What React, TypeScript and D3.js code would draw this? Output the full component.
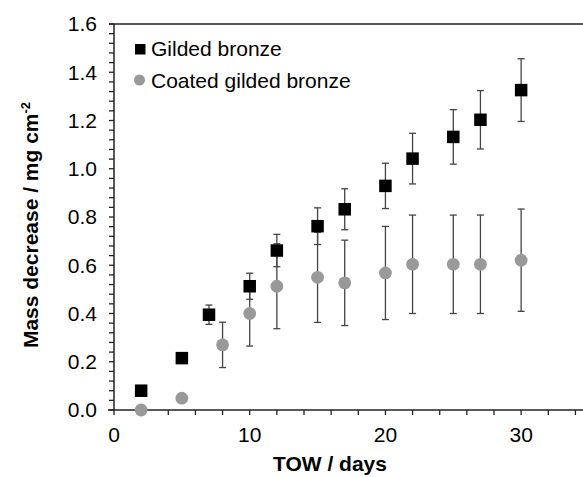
import React from "react";
import * as d3 from "d3";

const gildedDays = [2, 5, 7, 10, 12, 15, 17, 20, 22, 25, 27, 30];
const gildedValues = [0.08, 0.215, 0.395, 0.513, 0.661, 0.762, 0.832, 0.929, 1.042, 1.132, 1.203, 1.326];
const gildedErrors = [0, 0, 0.04, 0.054, 0.067, 0.076, 0.085, 0.094, 0.105, 0.113, 0.121, 0.13];

const coatedDays = [2, 5, 8, 10, 12, 15, 17, 20, 22, 25, 27, 30];
const coatedValues = [0.0, 0.049, 0.27, 0.4, 0.513, 0.55, 0.527, 0.568, 0.604, 0.604, 0.604, 0.621];
const coatedErrors = [0, 0, 0.094, 0.135, 0.176, 0.187, 0.177, 0.193, 0.204, 0.204, 0.204, 0.212];

const xMajorTicks = [0, 10, 20, 30];
const yMajorTicks = [0, 0.2, 0.4, 0.6, 0.8, 1.0, 1.2, 1.4, 1.6];
const seriesNames = ["Gilded bronze", "Coated gilded bronze"];
const xTitle = "TOW / days";

const W = 583;
const H = 477;
const left = 114;
const right = 589;
const top = 24;
const bottom = 410;
const FONT = "'Liberation Sans', Arial, sans-serif";

export default function App() {
  const x = d3.scaleLinear().domain([0, 35]).range([left, right]);
  const y = d3.scaleLinear().domain([0, 1.6]).range([bottom, top]);
  const xMinor = d3.range(0, 35.01, 2);
  const yMinor = d3.range(0, 1.6001, 0.04);
  const errColor = "#444";
  const cap = 3.5;
  const sq = 12.5;

  const errBars = (days: number[], vals: number[], errs: number[], key: string) =>
    days.map((d, i) =>
      errs[i] > 0 ? (
        <g key={key + i} stroke={errColor} strokeWidth={1.3}>
          <line x1={x(d)} x2={x(d)} y1={y(vals[i] - errs[i])} y2={y(vals[i] + errs[i])} />
          <line x1={x(d) - cap} x2={x(d) + cap} y1={y(vals[i] - errs[i])} y2={y(vals[i] - errs[i])} />
          <line x1={x(d) - cap} x2={x(d) + cap} y1={y(vals[i] + errs[i])} y2={y(vals[i] + errs[i])} />
        </g>
      ) : null
    );

  return (
    <svg
      width={W}
      height={H}
      style={{ position: "absolute", left: 0, top: 0, background: "#fff" }}
      fontFamily={FONT}
    >
      <rect x={0} y={0} width={W} height={H} fill="#fff" />
      {/* frame */}
      <line x1={left - 5} x2={right} y1={top} y2={top} stroke="#222" strokeWidth={1.5} />
      <line x1={right} x2={right} y1={top} y2={bottom} stroke="#222" strokeWidth={1.5} />
      {/* y axis */}
      <line x1={left} x2={left} y1={top} y2={bottom} stroke="#222" strokeWidth={1.5} />
      {yMinor.map((v, i) => (
        <line key={"ym" + i} x1={left - 5} x2={left} y1={y(v)} y2={y(v)} stroke="#222" strokeWidth={1.3} />
      ))}
      {yMajorTicks.map((v) => (
        <text key={"yl" + v} x={97} y={y(v)} dy="0.35em" textAnchor="end" fontSize={21} fill="#000">
          {d3.format(".1f")(v)}
        </text>
      ))}
      {/* x axis */}
      <line x1={left - 6} x2={right} y1={bottom} y2={bottom} stroke="#222" strokeWidth={1.5} />
      {xMinor.map((v, i) => (
        <line key={"xm" + i} x1={x(v)} x2={x(v)} y1={bottom} y2={bottom + 5} stroke="#222" strokeWidth={1.3} />
      ))}
      {xMajorTicks.map((v) => (
        <text key={"xl" + v} x={x(v)} y={442} textAnchor="middle" fontSize={21} fill="#000">
          {v}
        </text>
      ))}
      {/* titles */}
      <text x={330} y={471} textAnchor="middle" fontSize={21} fontWeight="bold" fill="#000">
        {xTitle}
      </text>
      <text
        transform={`translate(38, 225) rotate(-90)`}
        textAnchor="middle"
        fontSize={21}
        fontWeight="bold"
        fill="#000"
      >
        Mass decrease / mg cm
        <tspan dy="-8" fontSize={13}>-2</tspan>
      </text>
      {/* error bars */}
      {errBars(coatedDays, coatedValues, coatedErrors, "ce")}
      {errBars(gildedDays, gildedValues, gildedErrors, "ge")}
      {/* markers */}
      {coatedDays.map((d, i) => (
        <circle key={"c" + i} cx={x(d)} cy={y(coatedValues[i])} r={6.4} fill="#999" />
      ))}
      {gildedDays.map((d, i) => (
        <rect key={"s" + i} x={x(d) - sq / 2} y={y(gildedValues[i]) - sq / 2} width={sq} height={sq} fill="#000" />
      ))}
      {/* legend */}
      <rect x={135} y={44} width={10.5} height={10.5} fill="#000" />
      <text x={151} y={56} fontSize={21} fill="#000">{seriesNames[0]}</text>
      <circle cx={139.5} cy={80} r={5.5} fill="#999" />
      <text x={151} y={87.5} fontSize={21} fill="#000">{seriesNames[1]}</text>
    </svg>
  );
}
